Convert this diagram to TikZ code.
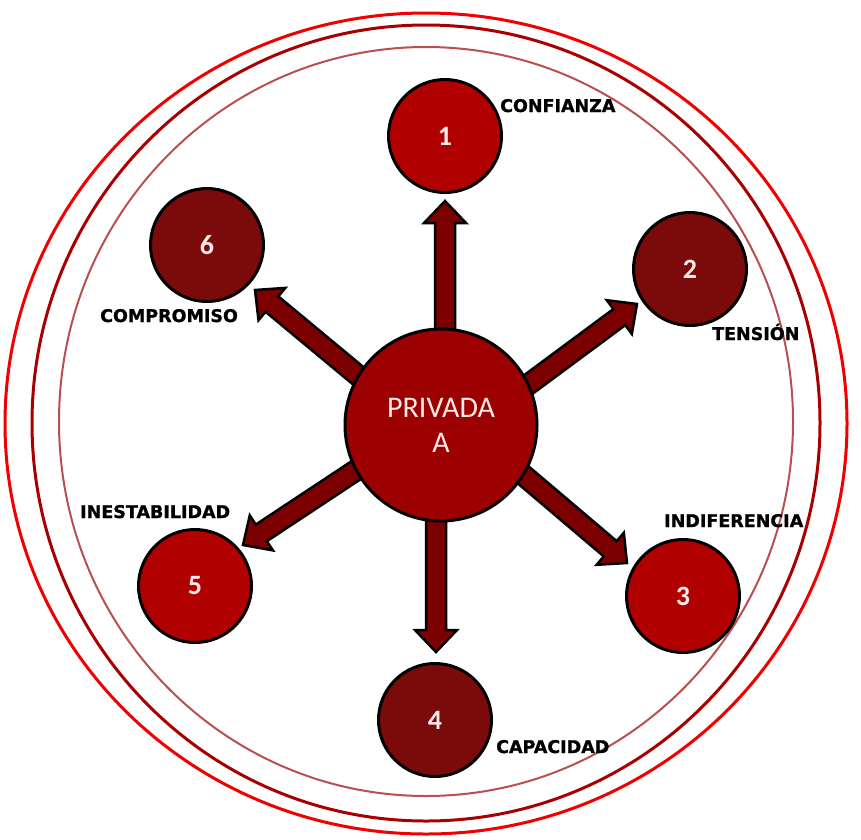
\documentclass[tikz,border=0pt]{standalone}
\usepackage{fontspec}
\setmainfont{Carlito}
\newfontfamily\labelfont{DejaVu Sans}[BoldFeatures={FakeBold=1.2}]
\usetikzlibrary{calc}

\definecolor{ringred}{HTML}{F00000}
\definecolor{ringdark}{HTML}{A80000}
\definecolor{ringsoft}{HTML}{B85050}
\definecolor{hubfill}{HTML}{9C0000}
\definecolor{brightfill}{HTML}{B00000}
\definecolor{darkfill}{HTML}{7B0A0A}
\definecolor{arrowfill}{HTML}{7D0000}
\definecolor{softwhite}{HTML}{FBEAEA}

\tikzset{
  hub/.style={circle, draw=black, line width=3pt, fill=hubfill, minimum size=192pt,
    inner sep=0pt, text=softwhite, align=center, font=\fontsize{30}{35}\selectfont},
  bubble/.style={circle, draw=black, line width=3pt, minimum size=113pt, inner sep=0pt,
    text=softwhite, font=\fontsize{28}{30}\selectfont\bfseries},
  brightbubble/.style={bubble, fill=brightfill},
  darkbubble/.style={bubble, fill=darkfill},
  tag/.style={anchor=base west, inner sep=0pt, text=black,
    font=\labelfont\bfseries\fontsize{17.5}{20}\selectfont},
  arrowbody/.style={fill=arrowfill, draw=black, line width=2.5pt, line join=miter}
}

% block arrow from a start coordinate to a tip coordinate
\newcommand\blockarrow[2]{%
  \path ($(#2)!22pt!(#1)$) coordinate (hb);
  \filldraw[arrowbody]
    ($(#1)!10pt!90:(#2)$) -- ($(hb)!10pt!90:(#2)$) -- ($(hb)!21pt!90:(#2)$) --
    (#2) --
    ($(hb)!21pt!-90:(#2)$) -- ($(hb)!10pt!-90:(#2)$) -- ($(#1)!10pt!-90:(#2)$) -- cycle;
}

\begin{document}
\begin{tikzpicture}[x=1pt,y=-1pt]
\useasboundingbox (0,0) rectangle (861,839);

% concentric rings
\draw[ringred, line width=3pt] (426,423.5) ellipse [x radius=421pt, y radius=410.5pt];
\draw[ringdark, line width=3pt] (426,423) ellipse [x radius=394pt, y radius=398pt];
\draw[ringsoft, line width=2pt] (426,421.5) ellipse [x radius=367pt, y radius=374.5pt];

% arrow end points
\coordinate (s1) at (445,330);  \coordinate (t1) at (445,201);
\coordinate (s2) at (506,401);  \coordinate (t2) at (637,304);
\coordinate (s3) at (508,462);  \coordinate (t3) at (627,563);
\coordinate (s4) at (436,500);  \coordinate (t4) at (436,652);
\coordinate (s5) at (373,459);  \coordinate (t5) at (243,545);
\coordinate (s6) at (379,393);  \coordinate (t6) at (255,290);

\blockarrow{s1}{t1}
\blockarrow{s2}{t2}
\blockarrow{s3}{t3}
\blockarrow{s4}{t4}
\blockarrow{s5}{t5}
\blockarrow{s6}{t6}

% central node
\node[hub] (hub) at (441,425) {PRIVADA\\A};

% outer nodes
\node[brightbubble] (n1) at (445,136) {1};
\node[darkbubble]   (n2) at (690,269) {2};
\node[brightbubble] (n3) at (683,596) {3};
\node[darkbubble]   (n4) at (435,720) {4};
\node[brightbubble] (n5) at (195,586) {5};
\node[darkbubble]   (n6) at (207,245) {6};

% labels
\node[tag] (l1) at (500,112) {CONFIANZA};
\node[tag] (l2) at (712,340) {TENSIÓN};
\node[tag] (l3) at (664,527) {INDIFERENCIA};
\node[tag] (l4) at (496,753) {CAPACIDAD};
\node[tag] (l5) at (80,518) {INESTABILIDAD};
\node[tag] (l6) at (100,322) {COMPROMISO};
\end{tikzpicture}
\end{document}
